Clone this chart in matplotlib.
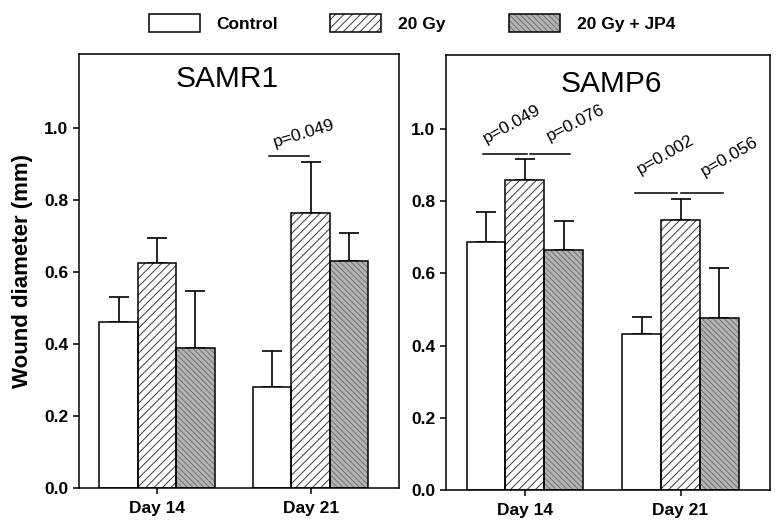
import matplotlib
matplotlib.use('Agg')
import matplotlib.pyplot as plt
import matplotlib.patches as mpatches
import numpy as np

plt.rcParams['font.family'] = ['Liberation Sans', 'DejaVu Sans']
plt.rcParams['hatch.linewidth'] = 0.7

# ---- data ----
days = ['Day 14', 'Day 21']
groups = ['Control', '20 Gy', '20 Gy + JP4']

samr1_control = [0.462, 0.281]
samr1_20gy = [0.624, 0.763]
samr1_jp4 = [0.388, 0.629]
samr1_control_err = [0.069, 0.098]
samr1_20gy_err = [0.070, 0.141]
samr1_jp4_err = [0.160, 0.078]

samp6_control = [0.687, 0.431]
samp6_20gy = [0.858, 0.747]
samp6_jp4 = [0.665, 0.477]
samp6_control_err = [0.082, 0.049]
samp6_20gy_err = [0.060, 0.058]
samp6_jp4_err = [0.079, 0.137]

samr1_pvalues = ['p=0.049']
samp6_pvalues = ['p=0.049', 'p=0.076', 'p=0.002', 'p=0.056']

yticks = [0.0, 0.2, 0.4, 0.6, 0.8, 1.0]

# ---- styles ----
styles = [
    dict(face='white', hatch=None, hcol='black'),
    dict(face='white', hatch='////', hcol='#3a3a3a'),
    dict(face='#b4b4b4', hatch='\\\\\\\\\\\\', hcol='#707070'),
]
width = 0.25

fig = plt.figure(figsize=(7.8, 5.23), dpi=100)
ax1 = fig.add_axes([79/780, 1-488/523, 320/780, 434/523])
ax2 = fig.add_axes([446/780, 1-490/523, 324/780, 435/523])

x = np.arange(len(days))


def draw_panel(ax, means, errs, title, tx, ty):
    handles = []
    for i, (m, e, st) in enumerate(zip(means, errs, styles)):
        xs = x + (i - 1) * width
        fill = ax.bar(xs, m, width, color=st['face'], hatch=st['hatch'],
                      edgecolor=st['hcol'], linewidth=0, zorder=2)
        outl = ax.bar(xs, m, width, fill=False, edgecolor='black',
                      linewidth=1.1, zorder=3)
        ax.errorbar(xs, m, yerr=[np.zeros(len(m)), e], fmt='none',
                    ecolor='black', elinewidth=1.2, capsize=7.2,
                    capthick=1.2, zorder=1)
        handles.append((fill.patches[0], outl.patches[0]))
    ax.set_ylim(0, 1.205)
    ax.set_xlim(-0.507, 1.575)
    ax.set_yticks(yticks)
    ax.set_yticklabels([f'{v:.1f}' for v in yticks], fontsize=12.5,
                       fontweight='bold')
    ax.set_xticks(x)
    ax.set_xticklabels(days, fontsize=12.5, fontweight='bold')
    ax.tick_params(direction='out', length=4.5, width=1.1, pad=3)
    ax.tick_params(axis='x', pad=5)
    for s in ax.spines.values():
        s.set_linewidth(1.1)
    ax.text(tx, ty, title, transform=ax.transAxes, fontsize=21.5,
            ha='center', va='baseline')
    return handles


handles = draw_panel(ax1, [samr1_control, samr1_20gy, samr1_jp4],
                     [samr1_control_err, samr1_20gy_err, samr1_jp4_err],
                     'SAMR1', 0.462, 0.924)
draw_panel(ax2, [samp6_control, samp6_20gy, samp6_jp4],
           [samp6_control_err, samp6_20gy_err, samp6_jp4_err],
           'SAMP6', 0.509, 0.915)

ax1.set_ylabel('Wound diameter (mm)', fontsize=16, fontweight='bold',
               labelpad=8)

# significance lines and p-values
def sig(ax, x0, x1, y, label, tx, ty, rot):
    ax.plot([x0, x1], [y, y], color='black', lw=1.1, zorder=4)
    ax.text(tx, ty, label, fontsize=12.5, rotation=rot, rotation_mode='anchor',
            ha='left', va='baseline', zorder=5)

sig(ax1, 0.73, 0.99, 0.921, samr1_pvalues[0], 0.77, 0.946, 17)
sig(ax2, -0.27, 0.015, 0.932, samp6_pvalues[0], -0.25, 0.961, 29)
sig(ax2, 0.03, 0.29, 0.932, samp6_pvalues[1], 0.16, 0.967, 27)
sig(ax2, 0.71, 0.98, 0.822, samp6_pvalues[2], 0.745, 0.873, 30)
sig(ax2, 1.005, 1.27, 0.822, samp6_pvalues[3], 1.152, 0.868, 30)

# legend (one entry per group, placed at top)
leg_x = [149/780, 330/780, 509/780]
for h, lab, lx in zip(handles, groups, leg_x):
    lg = fig.legend([h], [lab], loc='center left',
                    bbox_to_anchor=(lx, 1-22.8/523), frameon=False,
                    handlelength=2.95, handleheight=1.2, handletextpad=0.95,
                    borderpad=0, borderaxespad=0,
                    prop=dict(size=12.5, weight='bold'))

fig.savefig('out.png', dpi=100)
